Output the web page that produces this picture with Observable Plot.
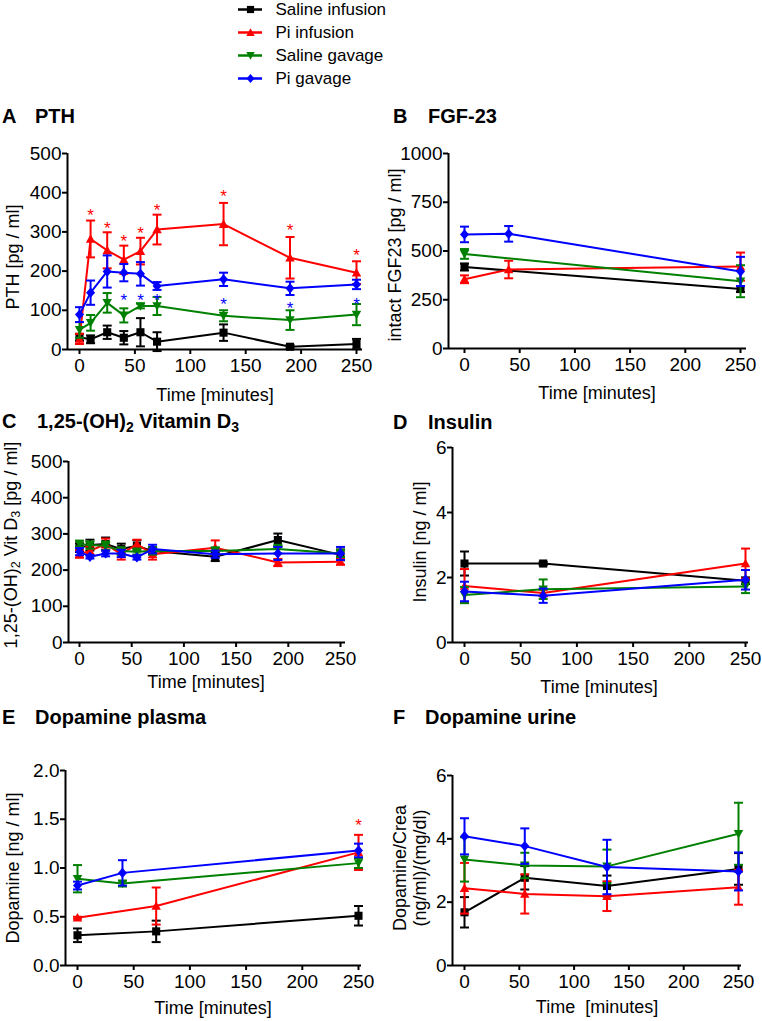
<!DOCTYPE html>
<html>
<head>
<meta charset="utf-8">
<script src="https://cdn.jsdelivr.net/npm/d3@7"></script>
<script src="https://cdn.jsdelivr.net/npm/@observablehq/plot@0.6"></script>
<style>
  html, body { margin: 0; padding: 0; background: #fff; }
  #root { position: relative; width: 762px; height: 1021px; overflow: hidden; font-family: "Liberation Sans", Arial, sans-serif; color: #000; }
  .box { position: absolute; }
  .box svg { overflow: visible; }
  #root svg g[aria-label*="axis"] path, #root svg g[aria-label*="axis"] line { stroke-width: 2px; }
  .ttl { position: absolute; font-weight: bold; font-size: 20px; line-height: 24px; white-space: nowrap; }
  .xt { position: absolute; font-size: 18px; line-height: 20px; white-space: pre; transform: translate(-50%, -50%); }
  .yt { position: absolute; font-size: 18px; line-height: 20px; white-space: pre; text-align: center; transform: translate(-50%, -50%) rotate(-90deg); }
  sub { font-size: 0.7em; vertical-align: -0.25em; line-height: 0; }
</style>
</head>
<body>
<div id="root"></div>
<script>
// ---------- series ----------
const seriesNames = ["Saline infusion", "Pi infusion", "Saline gavage", "Pi gavage"];

// ---------- A: PTH ----------
const pthTime = [0, 10, 25, 40, 55, 70, 130, 190, 250];
const pthSalineInf = [31, 26, 44, 30, 44, 20, 43, 7, 14];
const pthSalineInfSem = [9, 10, 17, 17, 36, 24, 21, 4, 13];
const pthPiInf = [27, 282, 253, 229, 251, 306, 320, 234, 196];
const pthPiInfSem = [13, 47, 46, 36, 34, 38, 54, 53, 29];
const pthSalineGav = [50, 68, 119, 87, 111, 111, 86, 75, 89];
const pthSalineGavSem = [20, 20, 25, 18, 6, 23, 14, 25, 27];
const pthPiGav = [89, 145, 199, 196, 193, 162, 179, 156, 166];
const pthPiGavSem = [19, 31, 41, 22, 30, 10, 17, 17, 12];
const pthSigPiInfTime = [10, 25, 40, 55, 70, 130, 190, 250];
const pthSigPiInfLevel = [355, 322, 288, 308, 367, 402, 315, 252];
const pthSigPiGavTime = [40, 55, 70, 130, 190, 250];
const pthSigPiGavLevel = [138, 138, 138, 128, 117, 128];
const pthTicks = [0, 100, 200, 300, 400, 500];

// ---------- B: FGF-23 ----------
const fgfSalineInfTime = [0, 250];
const fgfSalineInf = [418, 305];
const fgfSalineInfSem = [18, 15];
const fgfPiInfTime = [0, 40, 250];
const fgfPiInf = [355, 405, 420];
const fgfPiInfSem = [20, 45, 72];
const fgfSalineGavTime = [0, 250];
const fgfSalineGav = [485, 345];
const fgfSalineGavSem = [25, 82];
const fgfPiGavTime = [0, 40, 250];
const fgfPiGav = [585, 588, 395];
const fgfPiGavSem = [40, 40, 75];
const fgfTicks = [0, 250, 500, 750, 1000];

// ---------- C: 1,25-(OH)2 Vitamin D3 ----------
const vitTime = [0, 10, 25, 40, 55, 70, 130, 190, 250];
const vitSalineInf = [262, 269, 272, 258, 267, 253, 237, 283, 242];
const vitSalineInfSem = [12, 15, 18, 15, 15, 10, 12, 18, 15];
const vitPiInf = [244, 253, 272, 244, 272, 244, 262, 221, 223];
const vitPiInfSem = [10, 12, 15, 15, 12, 15, 20, 10, 8];
const vitSalineGav = [273, 269, 267, 253, 251, 253, 253, 258, 246];
const vitSalineGavSem = [8, 10, 12, 10, 8, 10, 10, 12, 10];
const vitPiGav = [251, 237, 246, 246, 235, 258, 244, 246, 246];
const vitPiGavSem = [10, 5, 8, 10, 6, 12, 10, 18, 18];
const vitTicks = [0, 100, 200, 300, 400, 500];

// ---------- D: Insulin ----------
const insTime = [0, 70, 250];
const insSalineInf = [2.43, 2.43, 1.90];
const insSalineInfSem = [0.37, 0.05, 0.10];
const insPiInf = [1.74, 1.52, 2.43];
const insPiInfSem = [0.52, 0.10, 0.46];
const insSalineGav = [1.46, 1.64, 1.72];
const insSalineGavSem = [0.25, 0.30, 0.20];
const insPiGav = [1.57, 1.44, 1.93];
const insPiGavSem = [0.30, 0.22, 0.30];
const insTicks = [0, 2, 4, 6];

// ---------- E: Dopamine plasma ----------
const dpSalineInfTime = [0, 70, 250];
const dpSalineInf = [0.31, 0.35, 0.51];
const dpSalineInfSem = [0.07, 0.11, 0.10];
const dpPiInfTime = [0, 70, 250];
const dpPiInf = [0.49, 0.61, 1.16];
const dpPiInfSem = [0.01, 0.19, 0.18];
const dpSalineGavTime = [0, 40, 250];
const dpSalineGav = [0.89, 0.84, 1.05];
const dpSalineGavSem = [0.14, 0.03, 0.05];
const dpPiGavTime = [0, 40, 250];
const dpPiGav = [0.82, 0.95, 1.18];
const dpPiGavSem = [0.04, 0.13, 0.07];
const dpSigPiInfTime = [250];
const dpSigPiInfLevel = [1.49];
const dpTicks = [0, 0.5, 1.0, 1.5, 2.0];

// ---------- F: Dopamine urine ----------
const duTime = [0, 55, 130, 250];
const duSalineInf = [1.68, 2.77, 2.51, 3.05];
const duSalineInfSem = [0.48, 0.37, 0.33, 0.50];
const duPiInf = [2.44, 2.26, 2.19, 2.47];
const duPiInfSem = [0.80, 0.62, 0.47, 0.55];
const duSalineGav = [3.35, 3.16, 3.13, 4.16];
const duSalineGavSem = [0.70, 0.40, 0.53, 0.98];
const duPiGav = [4.08, 3.77, 3.11, 2.97];
const duPiGavSem = [0.57, 0.56, 0.86, 0.60];
const duTicks = [0, 2, 4, 6];

const timeTicks = [0, 50, 100, 150, 200, 250];

// ---------- styles ----------
const colors = ["#000000", "#ff0000", "#008000", "#0000ff"];
function rad(size) { return Math.sqrt(size / Math.PI); }
const capSym = { draw(c, s) { const r = rad(s); c.moveTo(-r, 0); c.lineTo(r, 0); } };
const squareSym = { draw(c, s) { const r = rad(s) * 0.9; c.moveTo(-r, -r); c.lineTo(r, -r); c.lineTo(r, r); c.lineTo(-r, r); c.closePath(); } };
const triUpSym = { draw(c, s) { const r = rad(s); c.moveTo(0, -r * 1.05); c.lineTo(r * 1.05, r * 0.85); c.lineTo(-r * 1.05, r * 0.85); c.closePath(); } };
const triDownSym = { draw(c, s) { const r = rad(s); c.moveTo(0, r * 1.05); c.lineTo(r * 1.05, -r * 0.85); c.lineTo(-r * 1.05, -r * 0.85); c.closePath(); } };
const diamondSym = { draw(c, s) { const r = rad(s); c.moveTo(0, -r * 1.15); c.lineTo(r, 0); c.lineTo(0, r * 1.15); c.lineTo(-r, 0); c.closePath(); } };
const symbols = [squareSym, triUpSym, triDownSym, diamondSym];

function rows(t, v, s) { return t.map((x, i) => ({ t: x, v: v[i], sem: s[i] })); }
function pts(t, v) { return t.map((x, i) => ({ t: x, v: v[i] })); }

const root = document.getElementById("root");

function place(node, left, top) {
  const d = document.createElement("div");
  d.className = "box";
  d.style.left = left + "px";
  d.style.top = top + "px";
  d.appendChild(node);
  root.appendChild(d);
}

function panel(cfg) {
  const k = (cfg.x250 - cfg.x0) / 250;
  const xd = [(cfg.yAxisX - cfg.x0) / k, (cfg.xEnd - cfg.x0) / k];
  const marks = [
    Plot.ruleY([0], { stroke: "#000", strokeWidth: 2 }),
    Plot.ruleX([xd[0]], { stroke: "#000", strokeWidth: 2 })
  ];
  cfg.series.forEach((data, i) => {
    const c = colors[i];
    marks.push(Plot.ruleX(data, { x: "t", y1: d => d.v - d.sem, y2: d => d.v + d.sem, stroke: c, strokeWidth: 2 }));
    marks.push(Plot.dot(data, { x: "t", y: d => d.v + d.sem, symbol: capSym, r: 4.5, stroke: c, strokeWidth: 2, fill: "none" }));
    marks.push(Plot.dot(data, { x: "t", y: d => d.v - d.sem, symbol: capSym, r: 4.5, stroke: c, strokeWidth: 2, fill: "none" }));
    marks.push(Plot.line(data, { x: "t", y: "v", stroke: c, strokeWidth: 2 }));
    marks.push(Plot.dot(data, { x: "t", y: "v", symbol: symbols[i], r: 4.5, fill: c, stroke: "none" }));
  });
  (cfg.sig || []).forEach(([data, i]) => {
    marks.push(Plot.text(data, { x: "t", y: "v", text: () => "*", fill: colors[i], fontSize: 17, dy: 5 }));
  });
  const svg = Plot.plot({
    width: cfg.w,
    height: cfg.h,
    marginLeft: cfg.yAxisX - cfg.left,
    marginRight: cfg.left + cfg.w - cfg.xEnd,
    marginTop: cfg.yTop - cfg.top,
    marginBottom: cfg.top + cfg.h - cfg.yBot,
    style: { fontSize: "19px", fontFamily: "'Liberation Sans', Arial, sans-serif", color: "#000", background: "transparent", overflow: "visible" },
    x: { domain: xd, ticks: timeTicks, tickFormat: d => String(d), tickSize: 5, tickPadding: 4, label: null },
    y: { domain: [0, cfg.yMax], ticks: cfg.yTicks, tickFormat: cfg.yFmt || (d => String(d)), tickSize: 5, tickPadding: 1, label: null },
    marks
  });
  place(svg, cfg.left, cfg.top);
}

// A
panel({ left: 0, top: 140, w: 381, h: 240, yAxisX: 67, x0: 79, x250: 356, xEnd: 362, yTop: 153, yBot: 349, yMax: 500, yTicks: pthTicks,
  series: [rows(pthTime, pthSalineInf, pthSalineInfSem), rows(pthTime, pthPiInf, pthPiInfSem), rows(pthTime, pthSalineGav, pthSalineGavSem), rows(pthTime, pthPiGav, pthPiGavSem)],
  sig: [[pts(pthSigPiInfTime, pthSigPiInfLevel), 1], [pts(pthSigPiGavTime, pthSigPiGavLevel), 3]] });
// B
panel({ left: 381, top: 140, w: 381, h: 240, yAxisX: 448, x0: 464, x250: 740, xEnd: 746, yTop: 153, yBot: 348, yMax: 1000, yTicks: fgfTicks,
  series: [rows(fgfSalineInfTime, fgfSalineInf, fgfSalineInfSem), rows(fgfPiInfTime, fgfPiInf, fgfPiInfSem), rows(fgfSalineGavTime, fgfSalineGav, fgfSalineGavSem), rows(fgfPiGavTime, fgfPiGav, fgfPiGavSem)] });
// C
panel({ left: 0, top: 435, w: 381, h: 240, yAxisX: 68, x0: 79, x250: 340, xEnd: 345, yTop: 461, yBot: 642, yMax: 500, yTicks: vitTicks,
  series: [rows(vitTime, vitSalineInf, vitSalineInfSem), rows(vitTime, vitPiInf, vitPiInfSem), rows(vitTime, vitSalineGav, vitSalineGavSem), rows(vitTime, vitPiGav, vitPiGavSem)] });
// D
panel({ left: 381, top: 435, w: 381, h: 240, yAxisX: 452, x0: 464, x250: 745, xEnd: 748, yTop: 447, yBot: 642, yMax: 6, yTicks: insTicks,
  series: [rows(insTime, insSalineInf, insSalineInfSem), rows(insTime, insPiInf, insPiInfSem), rows(insTime, insSalineGav, insSalineGavSem), rows(insTime, insPiGav, insPiGavSem)] });
// E
panel({ left: 0, top: 755, w: 381, h: 245, yAxisX: 65, x0: 77, x250: 358, xEnd: 361, yTop: 770, yBot: 965, yMax: 2, yTicks: dpTicks, yFmt: d3.format(".1f"),
  series: [rows(dpSalineInfTime, dpSalineInf, dpSalineInfSem), rows(dpPiInfTime, dpPiInf, dpPiInfSem), rows(dpSalineGavTime, dpSalineGav, dpSalineGavSem), rows(dpPiGavTime, dpPiGav, dpPiGavSem)],
  sig: [[pts(dpSigPiInfTime, dpSigPiInfLevel), 1]] });
// F
panel({ left: 381, top: 755, w: 381, h: 245, yAxisX: 452, x0: 464, x250: 738, xEnd: 741, yTop: 775, yBot: 965, yMax: 6, yTicks: duTicks,
  series: [rows(duTime, duSalineInf, duSalineInfSem), rows(duTime, duPiInf, duPiInfSem), rows(duTime, duSalineGav, duSalineGavSem), rows(duTime, duPiGav, duPiGavSem)] });

// ---------- legend ----------
(function () {
  const lrows = seriesNames.map((s, i) => ({ s, i }));
  const marks = [];
  lrows.forEach(r => {
    marks.push(Plot.ruleY([r], { y: "s", x1: 0, x2: 1, stroke: colors[r.i], strokeWidth: 2.5 }));
    marks.push(Plot.dot([r], { x: 0.5, y: "s", symbol: symbols[r.i], r: 4, fill: colors[r.i], stroke: "none" }));
  });
  marks.push(Plot.text(lrows, { x: 1, y: "s", text: "s", dx: 13, textAnchor: "start", fontSize: 17, fill: "#000" }));
  const svg = Plot.plot({
    width: 220, height: 90, margin: 0,
    style: { fontFamily: "'Liberation Sans', Arial, sans-serif", fontSize: "17px", background: "transparent", overflow: "visible" },
    x: { domain: [0, 1], range: [8, 32], axis: null },
    y: { type: "point", domain: seriesNames, range: [8, 79], padding: 0, axis: null },
    marks
  });
  place(svg, 230, 0);
})();

// ---------- titles and axis labels ----------
function addDiv(cls, html, left, top) {
  const d = document.createElement("div");
  d.className = cls;
  d.innerHTML = html;
  d.style.left = left + "px";
  d.style.top = top + "px";
  root.appendChild(d);
}
const titles = [
  ["A", "PTH", 2, 35, 116],
  ["B", "FGF-23", 393, 428, 116],
  ["C", "1,25-(OH)<sub>2</sub> Vitamin D<sub>3</sub>", 2, 37, 421],
  ["D", "Insulin", 393, 428, 422],
  ["E", "Dopamine plasma", 2, 35, 717],
  ["F", "Dopamine urine", 393, 425, 717]
];
titles.forEach(([l, t, xl, xt, yc]) => {
  addDiv("ttl", l, xl, yc - 12);
  addDiv("ttl", t, xt, yc - 12);
});
const xTitles = [
  ["Time [minutes]", 215, 395], ["Time [minutes]", 597, 393],
  ["Time [minutes]", 206, 682], ["Time [minutes]", 599, 687],
  ["Time [minutes]", 213, 1008], ["Time  [minutes]", 597, 1007]
];
xTitles.forEach(([t, x, y]) => addDiv("xt", t, x, y));
const yTitles = [
  ["PTH [pg / ml]", 13, 257],
  ["intact FGF23 [pg / ml]", 395, 255],
  ["1,25-(OH)<sub>2</sub> Vit D<sub>3</sub> [pg / ml]", 11, 545],
  ["Insulin [ng / ml]", 420, 542],
  ["Dopamine [ng / ml]", 13, 868],
  ["Dopamine/Crea\n(ng/ml)/(mg/dl)", 410, 868]
];
yTitles.forEach(([t, x, y]) => addDiv("yt", t, x, y));
</script>
</body>
</html>
